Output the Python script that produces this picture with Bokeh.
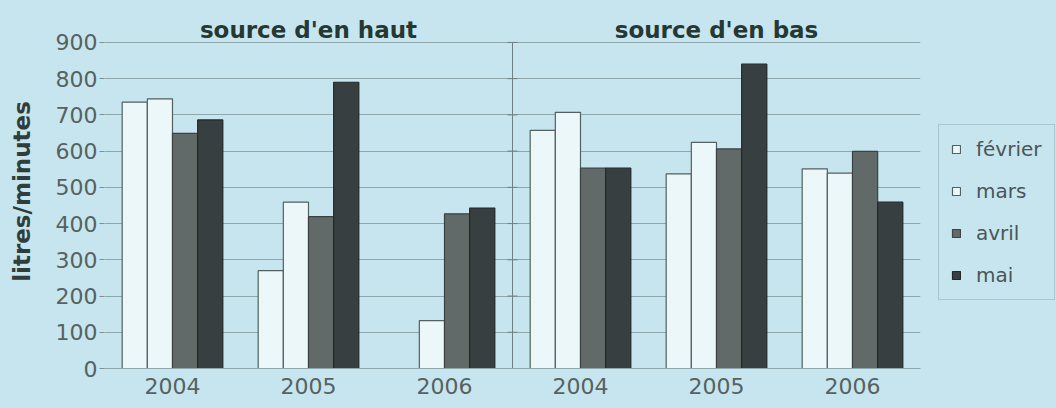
import math
from bokeh.plotting import figure
from bokeh.models import FactorRange, ColumnDataSource, Legend, LegendItem, FixedTicker
from bokeh.transform import dodge
from bokeh.core.properties import value
from bokeh.embed import file_html
from bokeh.resources import INLINE

sources = ["source d'en haut", "source d'en bas"]
years = ["2004", "2005", "2006"]
months = ["février", "mars", "avril", "mai"]

# litres/minutes, per year 2004, 2005, 2006
haut_fevrier = [735, 270, float("nan")]
haut_mars = [744, 459, 132]
haut_avril = [649, 419, 427]
haut_mai = [686, 790, 443]
bas_fevrier = [657, 537, 551]
bas_mars = [707, 624, 539]
bas_avril = [553, 606, 599]
bas_mai = [553, 840, 459]

y_ticks = [0, 100, 200, 300, 400, 500, 600, 700, 800, 900]

BG = "#c6e5ee"
FONT = "DejaVu Sans"

factors = [(s, y) for s in sources for y in years]
src = ColumnDataSource(data={
    "x": factors,
    "février": haut_fevrier + bas_fevrier,
    "mars": haut_mars + bas_mars,
    "avril": haut_avril + bas_avril,
    "mai": haut_mai + bas_mai,
})

p = figure(
    x_range=FactorRange(*factors, group_padding=0, factor_padding=0),
    y_range=(0, 977),
    frame_width=816, frame_height=354,
    min_border_left=104, min_border_top=14, min_border_bottom=32, min_border_right=136,
    output_backend="svg", toolbar_location=None,
    background_fill_color=BG, border_fill_color=BG, outline_line_color=None,
)

fills = ["#ecf7f9", "#ecf7f9", "#626a69", "#383f40"]
lines = ["#52605f", "#52605f", "#3b4241", "#222829"]
offsets = [-0.2775, -0.0925, 0.0925, 0.2775]
renderers = []
for m, f, l, o in zip(months, fills, lines, offsets):
    r = p.vbar(x=dodge("x", o, range=p.x_range), top=m, width=0.185, source=src,
               fill_color=f, line_color=l, line_width=1.2)
    renderers.append(r)

# divider between the two sources
div_src = ColumnDataSource(data={"x": [("source d'en bas", "2004")] * len(y_ticks), "y": y_ticks})
p.segment(x0=dodge("x", -0.5, range=p.x_range), y0=0,
          x1=dodge("x", -0.5, range=p.x_range), y1=900,
          source=ColumnDataSource(data={"x": [("source d'en bas", "2004")]}),
          line_color="#6f8084", line_width=1)
p.scatter(x=dodge("x", -0.5, range=p.x_range), y="y", source=div_src, marker="dash",
          size=10, line_color="#6f8084", line_width=1)

# group titles
p.text(x=[("source d'en haut", "2005"), ("source d'en bas", "2005")], y=[933, 933],
       text=sources, text_align="center", text_baseline="middle",
       text_font=value(FONT), text_font_style="bold", text_font_size="23px",
       text_color="#263833")

p.yaxis.ticker = FixedTicker(ticks=y_ticks)
p.ygrid.ticker = FixedTicker(ticks=y_ticks)
p.ygrid.grid_line_color = "#8ea7ac"
p.ygrid.grid_line_width = 1
p.xgrid.grid_line_color = None

p.yaxis.axis_label = "litres/minutes"
p.yaxis.axis_label_text_font = FONT
p.yaxis.axis_label_text_font_style = "bold"
p.yaxis.axis_label_text_font_size = "23px"
p.yaxis.axis_label_text_color = "#2f3e3a"
p.yaxis.axis_label_standoff = 18
p.yaxis.axis_line_color = None
p.yaxis.major_tick_in = 0
p.yaxis.major_tick_out = 5
p.yaxis.major_tick_line_color = "#7d9094"
p.yaxis.minor_tick_line_color = None
p.yaxis.major_label_standoff = 2
p.yaxis.major_label_text_font = FONT
p.yaxis.major_label_text_font_size = "22px"
p.yaxis.major_label_text_color = "#56625f"

p.xaxis.axis_line_color = "#8ea7ac"
p.xaxis.major_tick_line_color = None
p.xaxis.minor_tick_line_color = None
p.xaxis.major_label_standoff = 3
p.xaxis.major_label_text_font = FONT
p.xaxis.major_label_text_font_size = "22px"
p.xaxis.major_label_text_color = "#56625f"
p.xaxis.group_text_font_size = "0px"
p.xaxis.group_text_color = None
p.xaxis.separator_line_alpha = 0

legend = Legend(
    items=[LegendItem(label=m, renderers=[r]) for m, r in zip(months, renderers)],
    location=(18, 68), margin=0, padding=12, spacing=18,
    glyph_width=10, glyph_height=10, label_height=20, label_standoff=15,
    label_text_font=FONT, label_text_font_size="20px", label_text_color="#4a5656",
    background_fill_color=BG, background_fill_alpha=1.0,
    border_line_color="#8ea7ac", border_line_width=1,
)
p.add_layout(legend, "right")

open("out.html", "w").write(
    file_html(p, INLINE).replace("<head>", "<head><style>html,body{background:#c6e5ee;}</style>", 1)
)
